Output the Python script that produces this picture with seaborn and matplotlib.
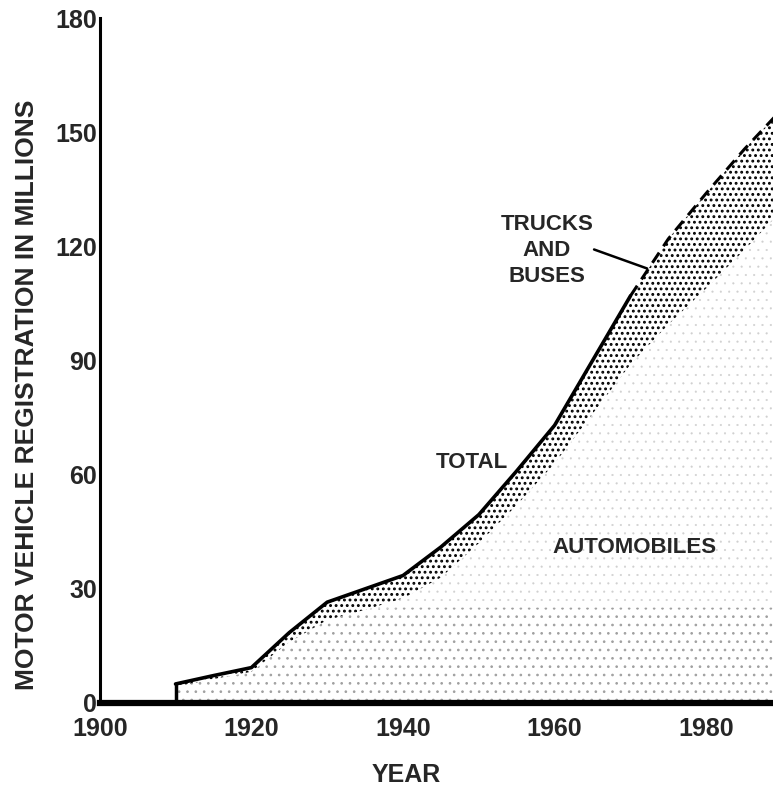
# coding=utf-8
import numpy as np
import pandas as pd
import seaborn as sns
import matplotlib.pyplot as plt
#-----------------------------
# values (millions of registrations)
years = [1910, 1915, 1920, 1925, 1930, 1935, 1940, 1945, 1950, 1955,
         1960, 1965, 1970, 1975, 1980, 1985, 1989]
total = [5.0, 7.2, 9.3, 18.5, 26.5, 30.0, 33.5, 41.0, 49.5, 61.0,
         73.0, 90.0, 107.0, 122.0, 134.0, 145.5, 154.0]
autos = [4.3, 6.3, 8.2, 16.0, 21.8, 24.5, 27.5, 33.0, 42.0, 52.0,
         63.0, 76.0, 89.0, 99.5, 109.0, 119.0, 127.5]
dashed_from = 1970
yticks = [0, 30, 60, 90, 120, 150, 180]
xticks = [1900, 1920, 1940, 1960, 1980]
#-----------------------------
df = pd.DataFrame({'year': years, 'total': total, 'autos': autos})

sns.set_style("white")
plt.rcParams['font.family'] = ['Liberation Sans', 'DejaVu Sans']
plt.rcParams['font.weight'] = 'bold'

fig = plt.figure(figsize=(7.73, 7.89), dpi=100)
ax = fig.add_axes([0.129, 0.109, 0.871, 0.868])

def stipple(lo, hi, hatch, color, lw):
    with plt.rc_context({'hatch.linewidth': lw}):
        p = ax.fill_between(df['year'], lo, hi, facecolor='white',
                            edgecolor=color, hatch=hatch, linewidth=0)
        if hasattr(p, 'set_hatch_linewidth'):
            p.set_hatch_linewidth(lw)
    return p

# automobiles area: faint stipple, a bit heavier near the base
stipple(0, df['autos'], '..', '#d0d0d0', 0.3)
stipple(0, np.minimum(df['autos'], 25), '..', '#a0a0a0', 0.7)
# trucks and buses band: dense dots
stipple(df['autos'], df['total'], '...', 'black', 1.3)

solid = df[df['year'] <= dashed_from]
dashed = df[df['year'] >= dashed_from]
sns.lineplot(data=solid, x='year', y='total', color='black', lw=2.6, ax=ax)
sns.lineplot(data=dashed, x='year', y='total', color='black', lw=2.2,
             linestyle=(0, (4, 2.5)), ax=ax)
ax.plot([years[0], years[0]], [0, total[0]], color='black', lw=2.5)

ax.set_xlim(1900, 1988.8)
ax.set_ylim(0, 180)
ax.set_xticks(xticks)
ax.set_yticks(yticks)
ax.set_xticklabels([str(x) for x in xticks], fontsize=18, fontweight='bold')
ax.set_yticklabels([str(y) for y in yticks], fontsize=18, fontweight='bold')
ax.tick_params(axis='y', direction='in', length=6, width=2.5, pad=2, color='black')
ax.tick_params(axis='x', length=0, pad=10)

for s in ['top', 'right']:
    ax.spines[s].set_visible(False)
ax.spines['left'].set_linewidth(2.2)
ax.spines['left'].set_color('black')
ax.spines['bottom'].set_linewidth(4.5)
ax.spines['bottom'].set_color('black')

ax.set_xlabel('YEAR', fontsize=18, fontweight='bold')
ax.set_ylabel('MOTOR VEHICLE REGISTRATION IN MILLIONS', fontsize=19,
              fontweight='bold')
ax.xaxis.set_label_coords(0.456, -0.087)
ax.yaxis.set_label_coords(-0.09, 0.45)

ax.text(1959.0, 119, 'TRUCKS\nAND\nBUSES', fontsize=16, fontweight='bold',
        ha='center', va='center', linespacing=1.3)
ax.plot([1965.2, 1972.2], [119.2, 114.2], color='black', lw=1.8)
ax.text(1953.8, 63.3, 'TOTAL', fontsize=16, fontweight='bold', ha='right', va='center')
ax.text(1970.5, 41, 'AUTOMOBILES', fontsize=16, fontweight='bold',
        ha='center', va='center')

fig.savefig('out.png', dpi=100)
